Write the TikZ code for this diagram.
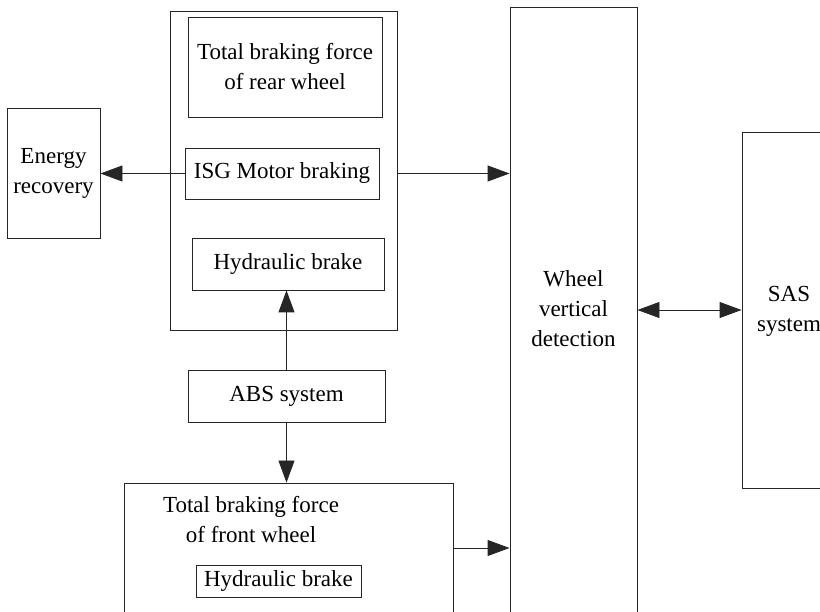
\documentclass[tikz,border=0pt]{standalone}
\usepackage{fontspec}
\setmainfont{Liberation Serif}
\usetikzlibrary{arrows.meta}
\begin{document}
\begin{tikzpicture}[x=1pt,y=-1pt,
  box/.style={draw=black!85, line width=0.9pt, inner sep=0pt, align=center},
  txt/.style={inner sep=0pt, align=center},
  arr/.style={draw=black!85, line width=0.9pt, -{Triangle[length=22pt,width=16pt]}},
  darr/.style={draw=black!85, line width=0.9pt, {Triangle[length=22pt,width=16pt]}-{Triangle[length=22pt,width=16pt]}},
  every node/.style={font=\fontsize{23}{30}\selectfont}]
\useasboundingbox (0,0) rectangle (820,612);
\clip (0,0) rectangle (820,612);
\fill[white] (0,0) rectangle (820,612);
% boxes
\node[box, minimum width=93pt, minimum height=130pt] (energy) at (53.5,173) {Energy\\recovery};
\node[box, minimum width=227pt, minimum height=319pt] (outer) at (283.5,170.5) {};
\node[box, minimum width=194pt, minimum height=100pt] (reartot) at (285,67) {Total braking force\\of rear wheel};
\node[box, minimum width=194pt, minimum height=51pt] (isg) at (282,173.5) {ISG Motor braking};
\node[box, minimum width=192pt, minimum height=52pt] (hydr) at (288,264) {Hydraulic brake};
\node[box, minimum width=197pt, minimum height=52pt] (abs) at (286.5,396) {ABS system};
\node[box, minimum width=329pt, minimum height=157pt] (front) at (288.5,561.5) {};
\node[txt] (fronttxt) at (251,520) {Total braking force\\of front wheel};
\node[box, minimum width=165pt, minimum height=32pt] (hydf) at (278.5,581) {Hydraulic brake};
\node[box, minimum width=127pt, minimum height=633pt] (wheel) at (573.5,323.5) {};
\node[txt] (wheeltxt) at (573.5,309) {Wheel\\vertical\\detection};
\node[box, minimum width=158pt, minimum height=356pt] (sas) at (821,310) {};
\node[txt] (sastxt) at (789,311) {SAS\\system};
% connectors
\draw[arr] (isg.west) -- (energy.east |- isg.west);
\draw[arr] (isg.west -| outer.east) -- (isg.west -| wheel.west);
\draw[arr] (abs.north) -- (abs.north |- hydr.south);
\draw[arr] (abs.south) -- (abs.south |- front.north);
\draw[arr] ([yshift=13.5pt]front.east) -- ([yshift=13.5pt]front.east -| wheel.west);
\draw[darr] (sas.west -| wheel.east) -- (sas.west);
\end{tikzpicture}
\end{document}
